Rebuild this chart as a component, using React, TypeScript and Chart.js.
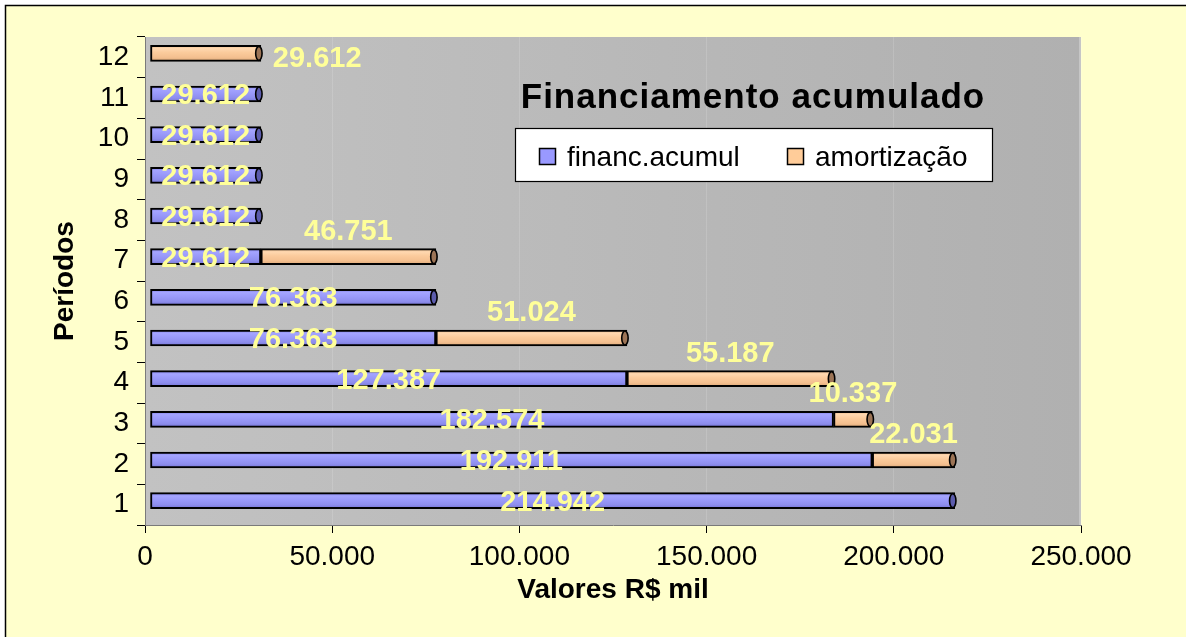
import React, { useEffect, useRef } from 'react';
import { Chart, registerables } from 'chart.js';

Chart.register(...registerables);

// ---- data ----
const periods = ['1', '2', '3', '4', '5', '6', '7', '8', '9', '10', '11', '12'];
const financAcumul = [214942, 192911, 182574, 127387, 76363, 76363, 29612, 29612, 29612, 29612, 29612, 0];
const amortizacao = [0, 22031, 10337, 55187, 51024, 0, 46751, 0, 0, 0, 0, 29612];
const seriesNames = ['financ.acumul', 'amortização'];
const xMin = 0;
const xMax = 250000;
const xStep = 50000;
const chartTitle = 'Financiamento acumulado';
const xTitle = 'Valores R$ mil';
const yTitle = 'Períodos';

const FONT = '"Liberation Sans", Arial, Helvetica, sans-serif';
const fmt = (n: number) => String(Math.round(n)).replace(/\B(?=(\d{3})+(?!\d))/g, '.');

const BLUE_STOPS: [number, string][] = [
  [0, '#7C7CE0'],
  [0.2, '#A4A4FF'],
  [0.45, '#9A9AFA'],
  [0.75, '#8E8EEE'],
  [1, '#7474D4'],
];
const ORANGE_STOPS: [number, string][] = [
  [0, '#E8B888'],
  [0.2, '#FFD8B0'],
  [0.45, '#FBCB9C'],
  [0.75, '#F4C090'],
  [1, '#DCA878'],
];

const BAR_T = 16;
const DX = 5;
const DY = -4;

const mkFill = (stops: [number, string][]) => (c: any) => {
  const chart = c.chart;
  const ys = chart.scales && chart.scales.y;
  if (!ys || c.dataIndex == null) return stops[2][1];
  const yc = ys.getPixelForValue(c.dataIndex);
  if (!isFinite(yc)) return stops[2][1];
  const g = chart.ctx.createLinearGradient(0, yc - BAR_T / 2, 0, yc + BAR_T / 2);
  stops.forEach(([o, col]) => g.addColorStop(o, col));
  return g;
};

const decor = {
  id: 'decor',
  beforeDraw(chart: any) {
    const { ctx, width, height, chartArea: a } = chart;
    ctx.save();
    ctx.fillStyle = '#FFFFFF';
    ctx.fillRect(0, 0, width, height);
    ctx.fillStyle = '#FFFFCC';
    ctx.fillRect(5, 5, width, height);
    ctx.strokeStyle = '#000';
    ctx.lineWidth = 1.5;
    ctx.beginPath();
    ctx.moveTo(5.5, height);
    ctx.lineTo(5.5, 5.5);
    ctx.lineTo(width, 5.5);
    ctx.stroke();
    const g = ctx.createLinearGradient(a.left, 0, a.right, 0);
    g.addColorStop(0, '#C2C2C2');
    g.addColorStop(1, '#B0B0B0');
    ctx.fillStyle = g;
    ctx.fillRect(a.left, a.top, a.right - a.left, a.bottom - a.top);
    ctx.fillStyle = '#C6C6C6';
    ctx.fillRect(a.right - 2, a.top, 2, a.bottom - a.top);
    ctx.restore();
  },
  beforeDatasetsDraw(chart: any) {
    chart.ctx.save();
    chart.ctx.translate(DX, DY);
  },
  afterDatasetsDraw(chart: any) {
    const ctx = chart.ctx;
    const m0 = chart.getDatasetMeta(0);
    const m1 = chart.getDatasetMeta(1);
    // cylinder end caps
    periods.forEach((_, i) => {
      const isOr = !!amortizacao[i];
      const el = isOr ? m1.data[i] : m0.data[i];
      if (!el || !isFinite(el.x)) return;
      const h = el.height;
      ctx.beginPath();
      ctx.ellipse(el.x - 2, el.y, 3.2, h / 2 - 1, 0, 0, Math.PI * 2);
      ctx.fillStyle = isOr ? '#9C7456' : '#5C5CAC';
      ctx.fill();
      ctx.lineWidth = 1.6;
      ctx.strokeStyle = '#000';
      ctx.stroke();
    });
    // data labels
    ctx.font = `bold 29px ${FONT}`;
    ctx.fillStyle = '#FFFF99';
    ctx.textBaseline = 'middle';
    periods.forEach((_, i) => {
      if (financAcumul[i]) {
        const el = m0.data[i];
        ctx.textAlign = 'center';
        ctx.fillText(fmt(financAcumul[i]), (el.x + el.base) / 2, el.y + 2);
      }
      if (amortizacao[i]) {
        const el = m1.data[i];
        if (financAcumul[i]) {
          ctx.textAlign = 'center';
          ctx.fillText(fmt(amortizacao[i]), (el.x + el.base) / 2, el.y - 25);
        } else {
          ctx.textAlign = 'left';
          ctx.fillText(fmt(amortizacao[i]), el.x + 12, el.y + 6);
        }
      }
    });
    ctx.restore();
  },
  afterDraw(chart: any) {
    const ctx = chart.ctx;
    ctx.save();
    // title
    ctx.font = `bold 35px ${FONT}`;
    (ctx as any).letterSpacing = '1px';
    ctx.fillStyle = '#000';
    ctx.textAlign = 'center';
    ctx.textBaseline = 'alphabetic';
    ctx.fillText(chartTitle, 753, 108);
    (ctx as any).letterSpacing = '0px';
    // legend
    ctx.fillStyle = '#FFFFFF';
    ctx.fillRect(515, 128, 478, 54);
    ctx.strokeStyle = '#000';
    ctx.lineWidth = 1.2;
    ctx.strokeRect(515.5, 128.5, 477, 53);
    const items = [
      { x: 539, color: '#9999FF', text: seriesNames[0] },
      { x: 787, color: '#FFCC99', text: seriesNames[1] },
    ];
    ctx.font = `28px ${FONT}`;
    ctx.textAlign = 'left';
    items.forEach((it) => {
      ctx.fillStyle = it.color;
      ctx.fillRect(it.x, 148, 17, 17);
      ctx.lineWidth = 1.5;
      ctx.strokeStyle = '#000';
      ctx.strokeRect(it.x + 0.5, 148.5, 16, 16);
      ctx.fillStyle = '#000';
      ctx.fillText(it.text, it.x + 28, 166);
    });
    ctx.restore();
  },
};

export default function App() {
  const ref = useRef<HTMLCanvasElement | null>(null);
  useEffect(() => {
    document.body.style.margin = '0';
    const canvas = ref.current;
    if (!canvas) return;
    const chart = new Chart(canvas, {
      type: 'bar',
      data: {
        labels: periods,
        datasets: [
          {
            label: seriesNames[0],
            data: financAcumul.map((v) => (v ? v : null)),
            backgroundColor: mkFill(BLUE_STOPS),
            borderColor: '#000',
            borderWidth: 2,
            borderSkipped: false,
            barThickness: BAR_T,
          },
          {
            label: seriesNames[1],
            data: amortizacao.map((v) => (v ? v : null)),
            backgroundColor: mkFill(ORANGE_STOPS),
            borderColor: '#000',
            borderWidth: 2,
            borderSkipped: false,
            barThickness: BAR_T,
          },
        ],
      },
      options: {
        indexAxis: 'y',
        responsive: false,
        animation: false,
        devicePixelRatio: 1,
        events: [],
        layout: { padding: { left: 0, right: 105, top: 37, bottom: 0 } },
        plugins: {
          legend: { display: false },
          title: { display: false },
          tooltip: { enabled: false },
        },
        scales: {
          x: {
            type: 'linear',
            stacked: true,
            min: xMin,
            max: xMax,
            ticks: {
              stepSize: xStep,
              callback: (v: any) => fmt(Number(v)),
              font: { family: FONT, size: 28 },
              color: '#000',
              padding: 7,
              maxRotation: 0,
            },
            grid: {
              color: 'rgba(255,255,255,0.14)',
              tickColor: '#000',
              tickLength: 8,
              lineWidth: 1,
            },
            border: { color: '#7A7A7A', width: 1 },
            title: {
              display: true,
              text: xTitle,
              color: '#000',
              font: { family: FONT, size: 28, weight: 'bold' },
              padding: { top: 0, bottom: 30 },
            },
            afterFit: (s: any) => {
              s.height = 112;
            },
          },
          y: {
            type: 'category',
            stacked: true,
            reverse: true,
            ticks: {
              font: { family: FONT, size: 28 },
              color: '#000',
              padding: 8,
            },
            grid: {
              offset: true,
              drawOnChartArea: false,
              tickLength: 8,
              color: '#000',
            },
            border: { color: '#7A7A7A', width: 1 },
            title: {
              display: true,
              text: yTitle,
              color: '#000',
              font: { family: FONT, size: 28, weight: 'bold' },
              padding: { top: 48, bottom: 0 },
            },
            afterFit: (s: any) => {
              s.width = 145;
            },
          },
        },
      } as any,
      plugins: [decor],
    });
    return () => chart.destroy();
  }, []);
  return (
    <div style={{ width: 1186, height: 637 }}>
      <canvas ref={ref} width={1186} height={637} style={{ display: 'block' }} />
    </div>
  );
}
